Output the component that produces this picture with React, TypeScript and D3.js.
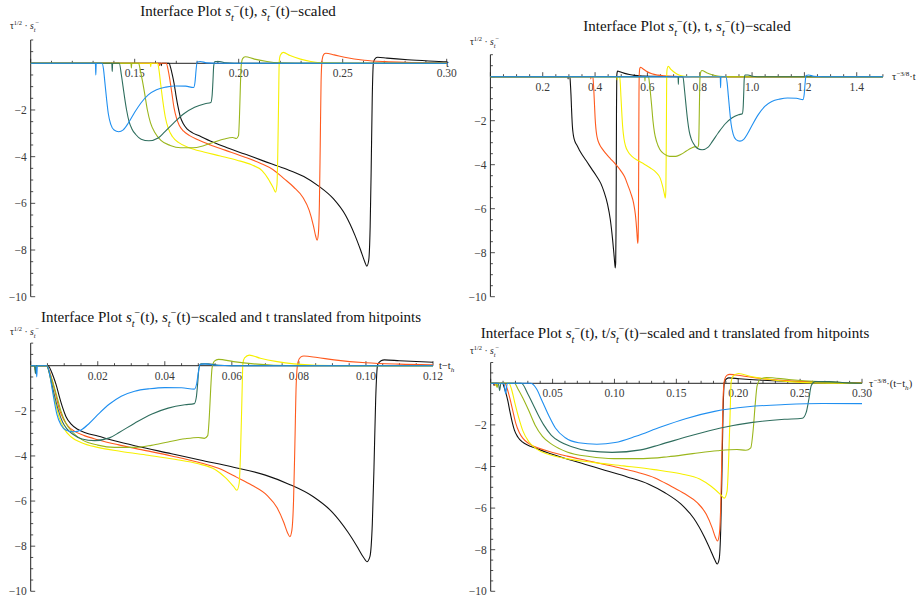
import React from 'react';
import * as d3 from 'd3';

// series order: black, orange, yellow, yellow-green, teal, blue
const seriesColors = ['#111111', '#ff5a1e', '#f6f000', '#9ab61c', '#2f6e5e', '#1f8ff0'];
const hitTimes = [0.1613, 0.1604, 0.1562, 0.1471, 0.1378, 0.1295];
// tau^(-3/8) factor of every series
const tauFactors = [1.824, 2.37, 3.07, 3.98, 5.16, 6.7];

// curves as [t - t_h, tau^(1/2) * s]
const blackCurve: [number, number][] = [
  [-0.2, 0], [0.0013, 0], [0.0015, -0.1], [0.0017, 0], [0.0052, 0], [0.006, -0.2], [0.0068, -0.5],
  [0.0076, -0.85], [0.0085, -1.35], [0.0095, -1.85], [0.0105, -2.25], [0.012, -2.58], [0.014, -2.82],
  [0.0165, -2.98], [0.02, -3.12], [0.025, -3.33], [0.032, -3.58], [0.042, -3.9], [0.0505, -4.18],
  [0.0605, -4.5], [0.07, -4.85], [0.077, -5.25], [0.0842, -5.8], [0.09, -6.5], [0.0945, -7.35],
  [0.0973, -8.0], [0.0993, -8.5], [0.1003, -8.69], [0.1012, -8.45], [0.1019, -7.0], [0.1024, -4.5],
  [0.1029, -1.5], [0.1035, 0.05], [0.1045, 0.22], [0.1055, 0.26], [0.11, 0.22], [0.12, 0.15],
  [0.13, 0.1], [0.14, 0.06], [0.16, 0.03], [0.2, 0.01], [0.25, 0], [0.7, 0],
];
const orangeCurve: [number, number][] = [
  [-0.2, 0], [0.0013, 0], [0.0015, -0.1], [0.0017, 0], [0.0048, 0], [0.0056, -0.25], [0.0065, -0.7],
  [0.0075, -1.3], [0.0085, -1.9], [0.0097, -2.35], [0.011, -2.65], [0.013, -2.9], [0.016, -3.1],
  [0.02, -3.28], [0.026, -3.5], [0.033, -3.72], [0.042, -4.0], [0.05, -4.28], [0.056, -4.55],
  [0.0615, -4.95], [0.066, -5.3], [0.0705, -5.75], [0.0735, -6.3], [0.0755, -6.95], [0.0766, -7.4],
  [0.0773, -7.58], [0.0779, -7.3], [0.0784, -6.0], [0.0788, -3.5], [0.0792, -0.8], [0.0797, 0.15],
  [0.0805, 0.38], [0.0815, 0.43], [0.0855, 0.36], [0.0905, 0.26], [0.1, 0.13], [0.11, 0.07],
  [0.12, 0.04], [0.135, 0.02], [0.16, 0.01], [0.2, 0], [0.7, 0],
];
const yellowCurve: [number, number][] = [
  [-0.2, 0], [0.0013, 0], [0.0015, -0.15], [0.0017, 0], [0.0048, 0], [0.0055, -0.3], [0.0063, -0.9],
  [0.0073, -1.6], [0.0085, -2.3], [0.01, -2.8], [0.012, -3.15], [0.015, -3.4], [0.02, -3.62],
  [0.027, -3.8], [0.035, -3.97], [0.043, -4.15], [0.05, -4.35], [0.055, -4.6], [0.058, -4.95],
  [0.0605, -5.35], [0.0615, -5.52], [0.0622, -5.2], [0.0626, -3.8], [0.063, -1.5], [0.0633, 0.1],
  [0.0638, 0.35], [0.0652, 0.47], [0.0685, 0.33], [0.0735, 0.18], [0.0785, 0.08], [0.085, 0.02],
  [0.095, 0], [0.7, 0],
];
const greenCurve: [number, number][] = [
  [-0.2, 0], [0.0011, 0], [0.0013, -0.2], [0.0015, 0], [0.0048, 0], [0.0056, -0.3], [0.0065, -0.7],
  [0.0077, -1.3], [0.009, -2.0], [0.0105, -2.55], [0.0125, -2.95], [0.0155, -3.3], [0.02, -3.52],
  [0.025, -3.62], [0.031, -3.62], [0.036, -3.53], [0.041, -3.38], [0.046, -3.24], [0.05, -3.18],
  [0.0518, -3.22], [0.0528, -3.1], [0.0533, -2.2], [0.0537, -1.0], [0.0541, -0.1], [0.0548, 0.2],
  [0.056, 0.28], [0.0605, 0.18], [0.0665, 0.08], [0.0725, 0.02], [0.08, 0], [0.7, 0],
];
const tealCurve: [number, number][] = [
  [-0.2, 0], [0.0012, 0], [0.0014, -0.35], [0.0016, 0], [0.0048, 0], [0.0058, -0.5], [0.0066, -1.0],
  [0.0074, -1.5], [0.0083, -2.0], [0.0095, -2.5], [0.0108, -2.8], [0.0127, -3.05], [0.0153, -3.25],
  [0.019, -3.32], [0.0235, -3.2], [0.0265, -2.95], [0.031, -2.55], [0.036, -2.15], [0.041, -1.88],
  [0.046, -1.73], [0.0488, -1.68], [0.0494, -1.4], [0.0498, -0.8], [0.0502, -0.1], [0.0508, 0.08],
  [0.053, 0.08], [0.056, 0.02], [0.06, 0], [0.7, 0],
];
const blueCurve: [number, number][] = [
  [-0.2, 0], [0.0016, 0], [0.0018, -0.5], [0.002, 0], [0.0048, 0], [0.0055, -0.25], [0.0062, -0.85],
  [0.007, -1.55], [0.0078, -2.15], [0.009, -2.62], [0.0106, -2.86], [0.0128, -2.93], [0.015, -2.85],
  [0.0175, -2.55], [0.0205, -2.1], [0.0235, -1.7], [0.027, -1.35], [0.031, -1.13], [0.0355, -1.02],
  [0.04, -0.97], [0.045, -0.98], [0.0488, -1.04], [0.0495, -0.8], [0.05, -0.3], [0.0505, 0.05],
  [0.052, 0.08], [0.055, 0.02], [0.06, 0], [0.7, 0],
];
const curves = [blackCurve, orangeCurve, yellowCurve, greenCurve, tealCurve, blueCurve];

type Seg = { t: string; i?: boolean; sub?: boolean; sup?: boolean };

const sT: Seg[] = [{ t: 's', i: true }, { t: 't', i: true, sub: true }, { t: '−', sup: true }];
const yAxisLabel: Seg[] = [{ t: 'τ' }, { t: '1/2', sup: true }, { t: ' · ' }, ...sT];

const titles: Seg[][] = [
  [{ t: 'Interface Plot ' }, ...sT, { t: '(t), ' }, ...sT, { t: '(t)−scaled' }],
  [{ t: 'Interface Plot ' }, ...sT, { t: '(t), t, ' }, ...sT, { t: '(t)−scaled' }],
  [{ t: 'Interface Plot ' }, ...sT, { t: '(t), ' }, ...sT, { t: '(t)−scaled and t translated from hitpoints' }],
  [{ t: 'Interface Plot ' }, ...sT, { t: '(t), t/' }, ...sT, { t: '(t)−scaled and t translated from hitpoints' }],
];
const xAxisLabels: Seg[][] = [
  [{ t: 't' }],
  [{ t: 'τ' }, { t: '−3/8', sup: true }, { t: '·t' }],
  [{ t: 't−t' }, { t: 'h', i: true, sub: true }],
  [{ t: 'τ' }, { t: '−3/8', sup: true }, { t: '·(t−t' }, { t: 'h', i: true, sub: true }, { t: ')' }],
];

const yTickLabels = [-10, -8, -6, -4, -2];

// where each plot sits on the page
const panelLayouts = [
  { xDomain: [0.1, 0.3], xPx: [30.7, 446.7], zeroPx: 63.3, unitPx: 23.34, major: 0.05, minor: 0.01, digits: 2,
    titleX: 238, titleY: 16, yLabX: 10, yLabY: 29, xLabX: 446, xLabY: 67 },
  { xDomain: [0, 1.5], xPx: [490.4, 882.9], zeroPx: 76.7, unitPx: 22, major: 0.2, minor: 0.05, digits: 1,
    titleX: 687, titleY: 31, yLabX: 470, yLabY: 45, xLabX: 892, xLabY: 80 },
  { xDomain: [0, 0.12], xPx: [30.7, 433], zeroPx: 365.7, unitPx: 22.56, major: 0.02, minor: 0.005, digits: 2,
    titleX: 231, titleY: 322, yLabX: 10, yLabY: 335, xLabX: 439, xLabY: 369 },
  { xDomain: [0, 0.3], xPx: [490.7, 862], zeroPx: 383.3, unitPx: 20.8, major: 0.05, minor: 0.01, digits: 2,
    titleX: 675, titleY: 338, yLabX: 470, yLabY: 354, xLabX: 869, xLabY: 387 },
];

const serif = "'Liberation Serif', 'Times New Roman', serif";

// x value of a point in each plot
const xOf = (panel: number, dt: number, s: number) => {
  if (panel === 0) return dt + hitTimes[s];
  if (panel === 1) return (dt + hitTimes[s]) * tauFactors[s];
  if (panel === 2) return dt;
  return dt * tauFactors[s];
};

function Rich({ segs, x, y, size, anchor = 'start', fill = '#000' }:
  { segs: Seg[]; x: number; y: number; size: number; anchor?: string; fill?: string }) {
  let cur = 0;
  return (
    <text x={x} y={y} fontSize={size} textAnchor={anchor} fill={fill} fontFamily={serif}>
      {segs.map((s, k) => {
        const target = s.sub ? size * 0.3 : s.sup ? -size * 0.4 : 0;
        const dy = target - cur;
        cur = target;
        return (
          <tspan key={k} dy={dy} fontStyle={s.i ? 'italic' : 'normal'}
            fontSize={s.sub || s.sup ? size * 0.68 : size}>{s.t}</tspan>
        );
      })}
    </text>
  );
}

function Panel({ p }: { p: number }) {
  const L = panelLayouts[p];
  const x = d3.scaleLinear().domain(L.xDomain).range(L.xPx);
  const y = d3.scaleLinear().domain([0, -10]).range([L.zeroPx, L.zeroPx + 10 * L.unitPx]);
  const line = d3.line<[number, number]>().curve(d3.curveMonotoneX);
  const xTicks = d3.range(Math.round((L.xDomain[1] - L.xDomain[0]) / L.minor) + 1)
    .map(k => L.xDomain[0] + k * L.minor);
  const yTicks = d3.range(23).map(k => 1 - k * 0.5);
  const clipId = `clip${p}`;
  const axisCol = '#222';
  const labCol = '#3a3a3a';
  return (
    <g>
      <defs>
        <clipPath id={clipId}>
          <rect x={L.xPx[0]} y={y(1.2)} width={L.xPx[1] - L.xPx[0]} height={y(-10.2) - y(1.2)} />
        </clipPath>
      </defs>
      <Rich segs={titles[p]} x={L.titleX} y={L.titleY} size={15} anchor="middle" fill="#111" />
      <Rich segs={yAxisLabel} x={L.yLabX} y={L.yLabY} size={9.5} fill="#222" />
      <Rich segs={xAxisLabels[p]} x={L.xLabX} y={L.xLabY} size={10.5} fill="#222" />
      {/* y axis */}
      <line x1={L.xPx[0]} x2={L.xPx[0]} y1={y(1)} y2={y(-10)} stroke={axisCol} strokeWidth={1} />
      {yTicks.map(v => {
        const isMajor = Math.abs(v / 2 - Math.round(v / 2)) < 1e-6;
        return (
          <line key={v} x1={L.xPx[0]} x2={L.xPx[0] + (isMajor ? 4.5 : 2.5)} y1={y(v)} y2={y(v)}
            stroke={axisCol} strokeWidth={0.8} />
        );
      })}
      {yTickLabels.map(v => (
        <text key={v} x={L.xPx[0] - 4} y={y(v) + 4} fontSize={11.5} textAnchor="end" fill={labCol}
          fontFamily={serif}>{'−' + Math.abs(v)}</text>
      ))}
      {/* x axis */}
      {xTicks.map((v, k) => {
        const r = (v - L.xDomain[0]) / L.major;
        const isMajor = Math.abs(v / L.major - Math.round(v / L.major)) < 1e-6;
        return (
          <g key={k}>
            <line x1={x(v)} x2={x(v)} y1={L.zeroPx} y2={L.zeroPx - (isMajor ? 4.5 : 2.5)}
              stroke={axisCol} strokeWidth={0.8} />
            {isMajor && r > 0.5 && (
              <text x={x(v)} y={L.zeroPx + 14} fontSize={11.5} textAnchor="middle" fill={labCol}
                fontFamily={serif}>{v.toFixed(L.digits)}</text>
            )}
          </g>
        );
      })}
      <line x1={L.xPx[0]} x2={L.xPx[1]} y1={L.zeroPx} y2={L.zeroPx} stroke={axisCol} strokeWidth={1} />
      <g clipPath={`url(#${clipId})`}>
        {curves.map((c, s) => (
          <path key={s} fill="none" stroke={seriesColors[s]} strokeWidth={1.1}
            d={line(c.map(([dt, v]) => [x(xOf(p, dt, s)), y(v)])) || ''} />
        ))}
      </g>
    </g>
  );
}

export default function App() {
  return (
    <svg width={920} height={599} style={{ position: 'absolute', left: 0, top: 0, background: '#fff' }}>
      {[0, 1, 2, 3].map(p => <Panel key={p} p={p} />)}
    </svg>
  );
}
